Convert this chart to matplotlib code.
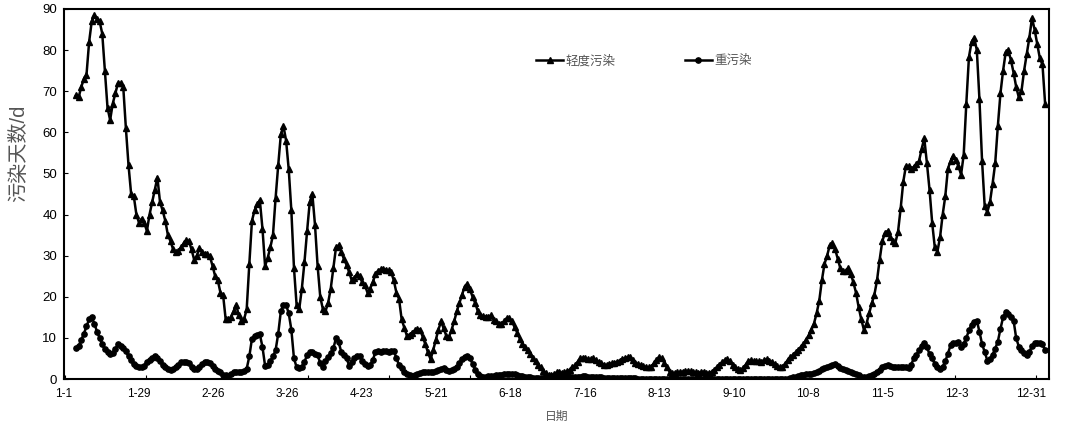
import numpy as np
import matplotlib
matplotlib.use('Agg')
import matplotlib.pyplot as plt

plt.rcParams['font.family'] = ['Liberation Sans', 'Noto Sans CJK SC']

# daily values (one point per marker)
light = [
    69, 68.5, 71, 73, 74, 82, 87, 88.5, 87.5, 87,
    84, 75, 66, 63, 67, 69.5, 72, 72, 71, 61,
    52, 45, 44.5, 40, 38, 39, 38, 36, 40, 43,
    46, 49, 43, 41, 38.5, 35, 33.5, 31.5, 30.8, 31.2,
    32, 33, 33.8, 33.5, 31.5, 29, 30, 31.8, 31, 30.5,
    30.4, 29.8, 27.5, 25, 24, 21, 20.5, 14.5, 14.5, 15,
    16.5, 18, 15.5, 14.2, 14.5, 17, 28, 38.5, 41, 42.5,
    43.5, 36.6, 27.5, 29.5, 32, 35, 44, 52, 59.5, 61.5,
    58, 51, 41, 27, 18, 17, 22, 28.5, 36, 43,
    45, 37.5, 27.5, 20, 17, 16.5, 18.5, 22, 27, 32,
    32.5, 31, 29.2, 27.8, 26, 24, 24.5, 25.5, 25, 23.5,
    22.8, 21, 22, 23.5, 25.5, 26.3, 26.7, 26.8, 26.6, 26.4,
    26, 24, 21, 19.5, 14.5, 12.5, 10.5, 10.8, 11.3, 11.8,
    12.2, 12, 10.3, 8.5, 6.5, 4.8, 7, 9.5, 12, 14,
    12.3, 10.5, 10.2, 12, 14, 16.5, 18.5, 20.5, 22.5, 23.2,
    21.8, 20, 18.5, 16.5, 15.5, 15.3, 15.2, 15, 15.5, 14.4,
    14, 13.5, 13.5, 14, 14.8, 14.8, 14, 12.6, 11.3, 9.8,
    8.6, 7.8, 7, 6.2, 5, 4.4, 3.5, 2.8, 2, 1.4,
    0.9, 1, 1.2, 1.6, 1.8, 1.5, 1.6, 1.9, 2.2, 3,
    3.3, 4.2, 5, 5.2, 5, 4.8, 4.9, 5, 4.6, 4.2,
    3.8, 3.5, 3.4, 3.7, 3.8, 4, 4.2, 4.5, 4.8, 5.1,
    5.3, 5.4, 4.7, 4, 3.6, 3.4, 3.2, 2.9, 2.8, 3,
    3.8, 4.6, 5.4, 5, 4, 2.8, 1.8, 1.4, 1.5, 1.6,
    1.7, 1.8, 1.9, 2, 1.9, 1.8, 1.6, 1.5, 1.7, 1.8,
    1.5, 1.5, 1.7, 2.2, 2.9, 3.5, 4.1, 4.6, 4.9, 4.3,
    3.5, 2.8, 2.5, 2.1, 2.7, 3.5, 4.3, 4.6, 4.3, 4.3,
    4.3, 4.2, 4.6, 4.8, 4.5, 4.1, 3.7, 3.1, 2.8, 3,
    3.7, 4.6, 5.3, 5.9, 6.5, 7.1, 7.8, 8.5, 9.6, 10.6,
    12, 13.5, 16, 19, 24, 28, 30, 32.5, 33, 31.7,
    29.3, 27, 26.3, 26.2, 27, 25.6, 23.5, 21, 17.5, 14.5,
    12, 13.5, 16, 18.4, 20.5, 24, 29, 33.5, 35.5, 36,
    34.5, 33.5, 33.2, 35.8, 41.5, 48, 51.8, 51.8, 51.2, 51.6,
    52.3, 53, 56, 58.5, 52.5, 46, 38, 32, 31, 34.5,
    40, 44.5, 51.2, 53, 54.3, 53.2, 51.8, 49.7, 54.5, 67,
    78.3, 82, 83, 80, 68, 53, 42, 40.6, 43, 47.5,
    52.5, 61.5, 69.5, 75, 79.5, 80, 77.5, 74.5, 71, 68.5,
    70, 75, 79, 83, 87.8, 85, 81.5, 78, 76.5, 67,
]

heavy = [
    7.5, 8, 9.5, 11, 12.8, 14.5, 15, 13.5, 11.5, 10,
    8.5, 7.2, 6.5, 6.2, 6.4, 7.2, 8.6, 8, 7.5, 6.7,
    5.5, 4.6, 3.7, 3.2, 3, 3, 3.2, 4.2, 4.7, 5.2,
    5.6, 5.2, 4.4, 3.5, 3, 2.5, 2.2, 2.5, 3, 3.5,
    4.2, 4.2, 4.2, 3.9, 3, 2.5, 2.4, 3, 3.7, 4.1,
    4.2, 4, 3.2, 2.5, 2, 1.6, 1, 0.9, 0.8, 1.3,
    1.6, 1.8, 1.8, 1.8, 1.9, 2.5, 5.5, 9.8, 10.5, 10.8,
    10.9, 7.8, 3.2, 3.3, 4.3, 5.5, 7, 11, 16.5, 18,
    18, 16, 12, 5, 2.9, 2.7, 3, 4.2, 5.8, 6.5,
    6.5, 6.1, 5.8, 3.9, 3, 4.3, 5.4, 6.3, 7.5, 9.9,
    9, 6.6, 5.9, 5.2, 3.2, 4.2, 5, 5.5, 5.5, 4.5,
    3.7, 3.2, 3.4, 4.6, 6.5, 6.8, 6.6, 6.9, 6.9, 6.6,
    6.8, 6.7, 5.2, 3.3, 2.6, 1.8, 1.1, 0.9, 0.8, 0.9,
    1.2, 1.5, 1.7, 1.7, 1.6, 1.6, 1.7, 1.9, 2.2, 2.5,
    2.7, 2.2, 2, 2.2, 2.5, 3, 3.8, 4.8, 5.4, 5.7,
    5.2, 3.6, 2.3, 1.1, 0.8, 0.6, 0.6, 0.7, 0.8, 0.8,
    0.9, 1, 1, 1.1, 1.2, 1.2, 1.2, 1.2, 1, 0.8,
    0.7, 0.6, 0.5, 0.4, 0.3, 0.3, 0.3, 0.2, 0.2, 0.2,
    0.2, 0.3, 0.3, 0.4, 0.4, 0.4, 0.5, 0.5, 0.5, 0.6,
    0.6, 0.6, 0.6, 0.7, 0.7, 0.6, 0.6, 0.5, 0.5, 0.4,
    0.4, 0.3, 0.3, 0.3, 0.2, 0.2, 0.2, 0.2, 0.2, 0.2,
    0.2, 0.2, 0.2, 0.2, 0.1, 0.1, 0.1, 0.1, 0.1, 0.1,
    0.1, 0, 0, 0, 0, 0, 0, 0, 0, 0,
    0, 0, 0, 0, 0, 0, 0, 0, 0, 0,
    0, 0, 0, 0, 0, 0, 0, 0, 0, 0,
    0, 0, 0, 0, 0, 0, 0, 0, 0, 0,
    0, 0, 0, 0, 0, 0, 0, 0, 0, 0,
    0, 0.1, 0.2, 0.4, 0.6, 0.8, 0.9, 1, 1.1, 1.2,
    1.3, 1.5, 1.7, 2, 2.4, 2.7, 3, 3.2, 3.5, 3.6,
    3.1, 2.7, 2.4, 2.2, 2, 1.8, 1.5, 1.2, 0.9, 0.6,
    0.4, 0.5, 0.7, 0.9, 1.2, 1.7, 2.3, 3, 3.2, 3.3,
    3.1, 3, 3, 3, 3, 2.9, 2.8, 2.7, 3.5, 5,
    5.9, 7, 8, 8.7, 7.8, 6, 5, 3.7, 2.8, 2.4,
    3, 4.3, 6.2, 8.2, 8.7, 8.8, 9, 7.9, 8.6, 10,
    11.8, 13.2, 13.8, 14.2, 11.5, 8.5, 6.6, 4.5, 4.9, 5.9,
    7.4, 9.1, 12.2, 15, 16.2, 15.8, 15, 14.2, 9.9, 7.9,
    7, 6.3, 5.8, 6.6, 8, 8.7, 8.7, 8.7, 8.5, 7,
]

date_labels = ['1-1', '1-29', '2-26', '3-26', '4-23', '5-21', '6-18',
               '7-16', '8-13', '9-10', '10-8', '11-5', '12-3', '12-31']
series_names = ['轻度污染', '重污染']

W, H = 1073, 423
fig = plt.figure(figsize=(W / 100, H / 100), dpi=100)
ax = fig.add_axes([64 / W, 1 - 379 / H, (1049 - 64) / W, (379 - 9) / H])


def px2x(px):
    # pixel column of the picture -> index along the series
    return (np.asarray(px, dtype=float) - 75) / 2.629


x = np.arange(len(light))
ax.plot(x, light, '-^', color='black', lw=1.8, ms=3.8, label=series_names[0])
ax.plot(x, heavy, '-o', color='black', lw=1.8, ms=3.8, label=series_names[1])

ax.set_xlim(px2x(64), px2x(1049))
ax.set_ylim(0, 90)
ax.set_yticks(range(0, 91, 10))
ax.tick_params(axis='y', direction='in', length=3, labelsize=9.5, pad=5)

# month tick marks, date labels every 28 days
ax.set_xticks(px2x(64 + 81 * np.arange(13)))
ax.set_xticklabels([])
ax.tick_params(axis='x', which='major', direction='in', length=3)
ax.set_xticks(px2x(63 + 74.5 * np.arange(len(date_labels))), minor=True)
ax.set_xticklabels(date_labels, minor=True)
ax.tick_params(axis='x', which='minor', length=0, labelsize=8.5, pad=6.5)

for s in ax.spines.values():
    s.set_linewidth(1.5)

ax.set_ylabel('污染天数/d', fontsize=14.5, color='#555555')
ax.yaxis.set_label_coords(-0.036, 0.61)
ax.set_xlabel('日期', fontsize=8.5, color='#555555', labelpad=8)

ax.legend(loc='center', bbox_to_anchor=(644 / W, 1 - 61 / H),
          bbox_transform=fig.transFigure, ncol=2, frameon=False,
          fontsize=9, handlelength=2.2, columnspacing=5.5,
          handletextpad=0.2, labelcolor='#555555')

fig.savefig('out.png', dpi=100)
